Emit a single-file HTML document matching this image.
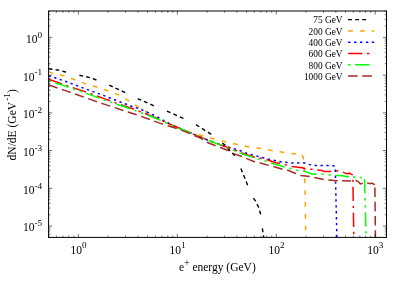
<!DOCTYPE html>
<html><head><meta charset="utf-8"><title>plot</title>
<style>html,body{margin:0;padding:0;background:#fff}svg{display:block;will-change:transform}text{font-family:"Liberation Serif",serif;fill:#000}</style></head>
<body>
<svg width="407" height="285" viewBox="0 0 407 285">
<rect x="0" y="0" width="407" height="285" fill="#ffffff"/>
<defs><clipPath id="c"><rect x="48.6" y="11.0" width="337.9" height="226.4"/></clipPath></defs>
<g fill="none" clip-path="url(#c)">
<polyline points="48.7,68.8 58.8,70.1 64.7,71.7 79.4,75.2 89.8,77.6 96.5,80 109.6,85.4 113.3,87 119.6,89.9 126.2,93.1 138.1,98.8 150,104.07" stroke="#000000" stroke-width="1.4" stroke-dasharray="3.82,3.09,3.82,3.09,3.82,13.82" stroke-dashoffset="0"/>
<polyline points="150,104.07 154.8,106.2 170.7,112.8 184,118.6 196.2,124.8 205.5,130.7 211.7,134.6 222.1,142.8 225.2,145.3 230.1,150.8 235,155.9 240.8,168.3 245.6,180 248.1,186.4 253.2,197.7 255.4,200.8 258.6,207.2 260.6,214 262.3,228 263.7,237.4" stroke="#000000" stroke-width="1.4" stroke-dasharray="3.9,3.15,3.9,3.15,3.9,14.1" stroke-dashoffset="13.78"/>
<polyline points="48.7,71.9 52.9,73.1 64.7,76 76.1,80.2 87.3,84.5 98.1,87.4 109.5,91.4 119.7,95.3 126.1,99.3 130.1,101.8 136,105.4 139.9,107.9 146.4,111.6 149,114.3 150,114.78" stroke="#ffa500" stroke-width="1.5" stroke-dasharray="4.65,6.97" stroke-dashoffset="0"/>
<polyline points="150,114.78 160,119.6 172.3,125.4 184.6,130.3 191,132.5 200,135.1 203.7,136 211,138.3 216,139.5 226.8,142.2 238.7,144.7 250,147.2 261.8,148.7 273.6,150.9 285,152.7 296.7,154.1 302.3,154.9" stroke="#ffa500" stroke-width="1.5" stroke-dasharray="4.74,7.11" stroke-dashoffset="6.61"/>
<polyline points="302.3,154.9 303.3,158 304.4,171.5 305.2,195 305.7,237.4" stroke="#ffa500" stroke-width="1.5" stroke-dasharray="4.74,7.11" stroke-dashoffset="0"/>
<polyline points="48.7,75.6 64.7,81.1 84.3,88.4 104,95.6 110.6,98.2 116,100.3 121.4,102.5 127.2,104.5 132.7,106.7 138.4,108.5 144,110.7 149.2,113.2 150,113.52" stroke="#0000ff" stroke-width="1.5" stroke-dasharray="2.32,3.48" stroke-dashoffset="0"/>
<polyline points="150,113.52 154.4,115.3 159.9,118.3 172.3,125.3 184.6,130.4 196.9,135.6 207.4,140 222,145.2 230.1,147.7 235.4,149.2 241.2,151 246.5,153.2 257.9,156.4 269.2,159.3 280.9,161.8 291.8,163.1 300,163 305,163.1 308.4,164.3 314.5,165.6 332,165.6 335.2,166" stroke="#0000ff" stroke-width="1.5" stroke-dasharray="2.37,3.56" stroke-dashoffset="3.77"/>
<polyline points="335.2,166 336.9,237.4" stroke="#0000ff" stroke-width="1.5" stroke-dasharray="2.37,3.56" stroke-dashoffset="2.33"/>
<polyline points="48.7,79.2 64.7,84.9 84.3,91.4 104,98.6 123.6,105.7 133.8,109 139.7,111.5 146.4,114 150,115.51" stroke="#ff0000" stroke-width="1.5" stroke-dasharray="13.94,4.65,2.32,4.65" stroke-dashoffset="0"/>
<polyline points="150,115.51 161.2,120.2 172.3,125.3 184.6,130.3 196.9,135.6 209.2,140.5 222.7,145.7 230.7,148.3 245,154.3 254,157 261.8,158.5 267.1,159.8 275.7,162.7 280,163.2 286.2,164.9 291.8,166.5 302.3,167.7 304.7,168.7 311.5,169.3 317.6,169.9 321.9,170.6 324.4,171.5 330.5,171.4 335.3,170.7 341.2,171.5 344.8,172.9 347.3,174 349.1,173 351,174.2 352.8,174.9" stroke="#ff0000" stroke-width="1.5" stroke-dasharray="14.22,4.74,2.37,4.74" stroke-dashoffset="5.55"/>
<polyline points="352.8,174.9 353.8,237.4" stroke="#ff0000" stroke-width="1.5" stroke-dasharray="14.22,4.74,2.37,4.74" stroke-dashoffset="14.22"/>
<polyline points="48.7,80.9 64.7,85.9 84.3,92.7 104,99.8 123.6,106.5 146.4,114.6 150,116.06" stroke="#00ff00" stroke-width="1.5" stroke-dasharray="2.32,4.65,13.94,4.65,2.32,4.65" stroke-dashoffset="0"/>
<polyline points="150,116.06 161.2,120.6 172.3,125.5 184.6,130.5 196.9,135.8 209.2,140.7 222.7,145.9 234.4,150.8 239.9,153 245,154.9 250,156.4 254,157.6 259.1,159.3 265.9,161.1 271.8,163.3 284.9,167 290.5,168.5 296.7,170.2 303.5,171 308.4,172.6 312.1,174.3 316.4,173.9 321.5,174.1 327.4,174.9 338,175.57" stroke="#00ff00" stroke-width="1.5" stroke-dasharray="2.37,4.74,14.22,4.74,2.37,4.74" stroke-dashoffset="9.89"/>
<polyline points="338,175.57 344.8,176 347.3,177 348.5,176.6 351,177.5 353,176.7 356,177.4 358.9,177 362,177.7 364.5,178.6" stroke="#00ff00" stroke-width="1.5" stroke-dasharray="2.23,4.46,13.37,4.46,2.23,4.46" stroke-dashoffset="8.9"/>
<polyline points="364.5,178.6 366.1,237.4" stroke="#00ff00" stroke-width="1.5" stroke-dasharray="2.37,4.74,14.22,4.74,2.37,4.74" stroke-dashoffset="6.61"/>
<polyline points="48.7,84.9 64.7,90.4 84.3,97.3 104,104.1 123.6,110.6 137.7,115.1 150,119.62" stroke="#a52a2a" stroke-width="1.5" stroke-dasharray="9.29,4.65" stroke-dashoffset="0"/>
<polyline points="150,119.62 150.5,119.8 163.6,124.5 177.2,128.6 190.7,133.9 200,137.9 203.1,139.7 208,142.8 216,145.9 220.9,147.7 229.5,151 234.4,153.9 242.4,156.7 247.3,158.9 255.4,162.1 260.4,163.1 269.6,165.6 274.2,166.8 283.1,169.5 288,170.3 295,173.2 300.9,175.5 309.7,176.4 323.5,179.4 337.3,180.8 338,180.81" stroke="#a52a2a" stroke-width="1.5" stroke-dasharray="9.48,4.74" stroke-dashoffset="9.74"/>
<polyline points="338,180.81 351,180.9 355.9,180.4 358.4,181.8 360.3,184 362.7,183.3 365,182.8 367.3,183.1 370.1,183.7 371.9,183.1 373.8,184.3 374.9,184.5" stroke="#a52a2a" stroke-width="1.5" stroke-dasharray="8.82,4.41" stroke-dashoffset="9.01"/>
<polyline points="374.9,184.5 375.4,237.4" stroke="#a52a2a" stroke-width="1.5" stroke-dasharray="9.48,4.74" stroke-dashoffset="11.12"/>
</g>
<g fill="none">
<path d="M348.1,19.6H374.3" stroke="#000000" stroke-width="1.4" stroke-dasharray="3.9,3.15,3.9,3.15,3.9,14.1"/>
<path d="M348.1,30.9H374.3" stroke="#ffa500" stroke-width="1.5" stroke-dasharray="4.74,7.11"/>
<path d="M348.1,42.2H374.3" stroke="#0000ff" stroke-width="1.5" stroke-dasharray="2.37,3.56"/>
<path d="M348.1,53.5H374.3" stroke="#ff0000" stroke-width="1.5" stroke-dasharray="14.22,4.74,2.37,4.74"/>
<path d="M348.1,64.8H374.3" stroke="#00ff00" stroke-width="1.5" stroke-dasharray="2.37,4.74,14.22,4.74,2.37,4.74"/>
<path d="M348.1,76.1H374.3" stroke="#a52a2a" stroke-width="1.5" stroke-dasharray="9.48,4.74"/>
</g>
<g font-size="9.35" text-anchor="end">
<text x="342.6" y="23.4">75 GeV</text>
<text x="342.6" y="34.7">200 GeV</text>
<text x="342.6" y="46">400 GeV</text>
<text x="342.6" y="57.3">600 GeV</text>
<text x="342.6" y="68.6">800 GeV</text>
<text x="342.6" y="79.9">1000 GeV</text>
</g>
<path d="M48.6,237.4L48.6,235.6M48.6,11L48.6,12.8M56.43,237.4L56.43,235.6M56.43,11L56.43,12.8M63.06,237.4L63.06,235.6M63.06,11L63.06,12.8M68.8,237.4L68.8,235.6M68.8,11L68.8,12.8M73.86,237.4L73.86,235.6M73.86,11L73.86,12.8M78.39,237.4L78.39,233.8M78.39,11L78.39,14.6M108.17,237.4L108.17,235.6M108.17,11L108.17,12.8M125.6,237.4L125.6,235.6M125.6,11L125.6,12.8M137.96,237.4L137.96,235.6M137.96,11L137.96,12.8M147.55,237.4L147.55,235.6M147.55,11L147.55,12.8M155.38,237.4L155.38,235.6M155.38,11L155.38,12.8M162.01,237.4L162.01,235.6M162.01,11L162.01,12.8M167.74,237.4L167.74,235.6M167.74,11L167.74,12.8M172.8,237.4L172.8,235.6M172.8,11L172.8,12.8M177.33,237.4L177.33,233.8M177.33,11L177.33,14.6M207.12,237.4L207.12,235.6M207.12,11L207.12,12.8M224.54,237.4L224.54,235.6M224.54,11L224.54,12.8M236.9,237.4L236.9,235.6M236.9,11L236.9,12.8M246.49,237.4L246.49,235.6M246.49,11L246.49,12.8M254.33,237.4L254.33,235.6M254.33,11L254.33,12.8M260.95,237.4L260.95,235.6M260.95,11L260.95,12.8M266.69,237.4L266.69,235.6M266.69,11L266.69,12.8M271.75,237.4L271.75,235.6M271.75,11L271.75,12.8M276.28,237.4L276.28,233.8M276.28,11L276.28,14.6M306.06,237.4L306.06,235.6M306.06,11L306.06,12.8M323.49,237.4L323.49,235.6M323.49,11L323.49,12.8M335.85,237.4L335.85,235.6M335.85,11L335.85,12.8M345.44,237.4L345.44,235.6M345.44,11L345.44,12.8M353.27,237.4L353.27,235.6M353.27,11L353.27,12.8M359.9,237.4L359.9,235.6M359.9,11L359.9,12.8M365.64,237.4L365.64,235.6M365.64,11L365.64,12.8M370.7,237.4L370.7,235.6M370.7,11L370.7,12.8M375.23,237.4L375.23,233.8M375.23,11L375.23,14.6M48.6,237.4L50.4,237.4M386.5,237.4L384.7,237.4M48.6,234.41L50.4,234.41M386.5,234.41L384.7,234.41M48.6,231.89L50.4,231.89M386.5,231.89L384.7,231.89M48.6,229.7L50.4,229.7M386.5,229.7L384.7,229.7M48.6,227.77L50.4,227.77M386.5,227.77L384.7,227.77M48.6,226.04L52.2,226.04M386.5,226.04L382.9,226.04M48.6,214.68L50.4,214.68M386.5,214.68L384.7,214.68M48.6,208.04L50.4,208.04M386.5,208.04L384.7,208.04M48.6,203.32L50.4,203.32M386.5,203.32L384.7,203.32M48.6,199.67L50.4,199.67M386.5,199.67L384.7,199.67M48.6,196.68L50.4,196.68M386.5,196.68L384.7,196.68M48.6,194.15L50.4,194.15M386.5,194.15L384.7,194.15M48.6,191.96L50.4,191.96M386.5,191.96L384.7,191.96M48.6,190.03L50.4,190.03M386.5,190.03L384.7,190.03M48.6,188.31L52.2,188.31M386.5,188.31L382.9,188.31M48.6,176.95L50.4,176.95M386.5,176.95L384.7,176.95M48.6,170.3L50.4,170.3M386.5,170.3L384.7,170.3M48.6,165.59L50.4,165.59M386.5,165.59L384.7,165.59M48.6,161.93L50.4,161.93M386.5,161.93L384.7,161.93M48.6,158.95L50.4,158.95M386.5,158.95L384.7,158.95M48.6,156.42L50.4,156.42M386.5,156.42L384.7,156.42M48.6,154.23L50.4,154.23M386.5,154.23L384.7,154.23M48.6,152.3L50.4,152.3M386.5,152.3L384.7,152.3M48.6,150.57L52.2,150.57M386.5,150.57L382.9,150.57M48.6,139.22L50.4,139.22M386.5,139.22L384.7,139.22M48.6,132.57L50.4,132.57M386.5,132.57L384.7,132.57M48.6,127.86L50.4,127.86M386.5,127.86L384.7,127.86M48.6,124.2L50.4,124.2M386.5,124.2L384.7,124.2M48.6,121.21L50.4,121.21M386.5,121.21L384.7,121.21M48.6,118.69L50.4,118.69M386.5,118.69L384.7,118.69M48.6,116.5L50.4,116.5M386.5,116.5L384.7,116.5M48.6,114.57L50.4,114.57M386.5,114.57L384.7,114.57M48.6,112.84L52.2,112.84M386.5,112.84L382.9,112.84M48.6,101.48L50.4,101.48M386.5,101.48L384.7,101.48M48.6,94.84L50.4,94.84M386.5,94.84L384.7,94.84M48.6,90.12L50.4,90.12M386.5,90.12L384.7,90.12M48.6,86.47L50.4,86.47M386.5,86.47L384.7,86.47M48.6,83.48L50.4,83.48M386.5,83.48L384.7,83.48M48.6,80.95L50.4,80.95M386.5,80.95L384.7,80.95M48.6,78.76L50.4,78.76M386.5,78.76L384.7,78.76M48.6,76.83L50.4,76.83M386.5,76.83L384.7,76.83M48.6,75.11L52.2,75.11M386.5,75.11L382.9,75.11M48.6,63.75L50.4,63.75M386.5,63.75L384.7,63.75M48.6,57.1L50.4,57.1M386.5,57.1L384.7,57.1M48.6,52.39L50.4,52.39M386.5,52.39L384.7,52.39M48.6,48.73L50.4,48.73M386.5,48.73L384.7,48.73M48.6,45.75L50.4,45.75M386.5,45.75L384.7,45.75M48.6,43.22L50.4,43.22M386.5,43.22L384.7,43.22M48.6,41.03L50.4,41.03M386.5,41.03L384.7,41.03M48.6,39.1L50.4,39.1M386.5,39.1L384.7,39.1M48.6,37.37L52.2,37.37M386.5,37.37L382.9,37.37M48.6,26.02L50.4,26.02M386.5,26.02L384.7,26.02M48.6,19.37L50.4,19.37M386.5,19.37L384.7,19.37M48.6,14.66L50.4,14.66M386.5,14.66L384.7,14.66M48.6,11L50.4,11M386.5,11L384.7,11" stroke="#000" stroke-width="0.55" fill="none"/>
<rect x="48.6" y="11.0" width="337.9" height="226.4" fill="none" stroke="#000" stroke-width="1"/>
<g>
<text x="42.1" y="42.77" text-anchor="end" font-size="11.5">10<tspan font-size="9.2" dy="-5.2">0</tspan></text>
<text x="42.1" y="80.51" text-anchor="end" font-size="11.5">10<tspan font-size="9.2" dy="-5.2">-1</tspan></text>
<text x="42.1" y="118.24" text-anchor="end" font-size="11.5">10<tspan font-size="9.2" dy="-5.2">-2</tspan></text>
<text x="42.1" y="155.97" text-anchor="end" font-size="11.5">10<tspan font-size="9.2" dy="-5.2">-3</tspan></text>
<text x="42.1" y="193.71" text-anchor="end" font-size="11.5">10<tspan font-size="9.2" dy="-5.2">-4</tspan></text>
<text x="42.1" y="231.44" text-anchor="end" font-size="11.5">10<tspan font-size="9.2" dy="-5.2">-5</tspan></text>
<text x="70.49" y="253.6" font-size="11.5">10<tspan font-size="9.2" dy="-5.2">0</tspan></text>
<text x="169.43" y="253.6" font-size="11.5">10<tspan font-size="9.2" dy="-5.2">1</tspan></text>
<text x="268.38" y="253.6" font-size="11.5">10<tspan font-size="9.2" dy="-5.2">2</tspan></text>
<text x="367.33" y="253.6" font-size="11.5">10<tspan font-size="9.2" dy="-5.2">3</tspan></text>
</g>
<text x="178.9" y="270.7" font-size="11.5">e<tspan font-size="10.5" dy="-5.2" dx="0">+</tspan><tspan dy="5.2" dx="-0.4"> energy (GeV)</tspan></text>
<text transform="translate(15.9,160.4) rotate(-90)" font-size="11.5">dN/dE (GeV<tspan font-size="9.2" dy="-6.2" dx="1.1">-1</tspan><tspan dy="6.2" dx="0.2">)</tspan></text>
</svg>
</body></html>
